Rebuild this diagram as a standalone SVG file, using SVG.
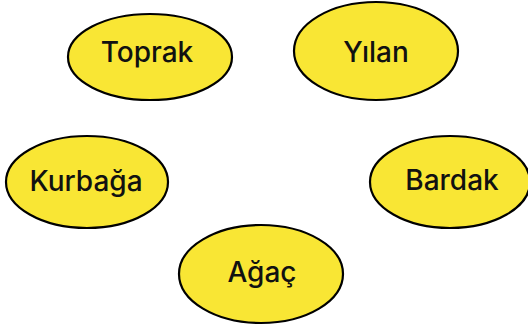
<svg xmlns="http://www.w3.org/2000/svg" width="528" height="331" viewBox="0 0 528 331">
<style>
.n ellipse{fill:#f9e634;stroke:#000;stroke-width:2.2}
.n text{font-family:Inter,"Open Sans",sans-serif;font-size:28px;font-weight:500;fill:#111;text-anchor:middle;dominant-baseline:central}
</style>
<rect width="528" height="331" fill="#fff"/>
<g id="connectors"></g>
<g id="toprak" class="n"><ellipse cx="150" cy="57" rx="82" ry="43"/><text x="147" y="52">Toprak</text></g>
<g id="yilan" class="n"><ellipse cx="376" cy="51" rx="82" ry="49"/><text x="376" y="52">Yılan</text></g>
<g id="kurbaga" class="n"><ellipse cx="87" cy="182" rx="81" ry="46"/><text x="86" y="181">Kurbağa</text></g>
<g id="bardak" class="n"><ellipse cx="450" cy="182" rx="80" ry="46"/><text x="452" y="180">Bardak</text></g>
<g id="agac" class="n"><ellipse cx="261" cy="274" rx="82" ry="49"/><text x="262" y="272">Ağaç</text></g>
</svg>
